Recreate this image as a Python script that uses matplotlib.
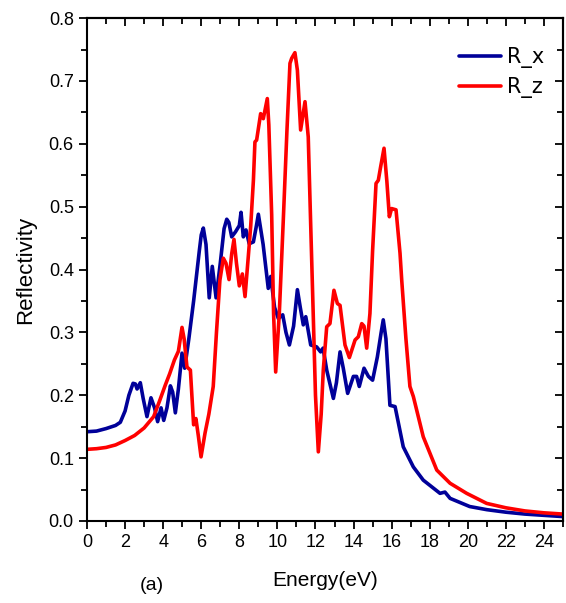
import numpy as np
import matplotlib
matplotlib.use("Agg")
import matplotlib.pyplot as plt
from matplotlib.ticker import MultipleLocator, FormatStrFormatter

# R_x (blue)
energy_x = [0.0, 0.5, 1.0, 1.5, 1.75, 2.0, 2.2, 2.42, 2.54, 2.63, 2.8, 2.95, 3.15, 3.36, 3.55, 3.71,
            3.89, 4.03, 4.2, 4.38, 4.5, 4.64, 4.8, 4.99, 5.13, 5.35, 5.6, 5.9, 6.0, 6.11, 6.25, 6.42,
            6.58, 6.78, 7.0, 7.2, 7.34, 7.45, 7.6, 7.8, 8.0, 8.09, 8.21, 8.35, 8.52, 8.74, 8.9, 9.0,
            9.25, 9.52, 9.65, 9.85, 10.05, 10.28, 10.45, 10.63, 10.85, 11.05, 11.2, 11.36, 11.49,
            11.75, 12.06, 12.27, 12.4, 12.59, 12.94, 13.1, 13.29, 13.46, 13.69, 13.99, 14.16, 14.3,
            14.55, 14.78, 15.0, 15.25, 15.45, 15.56, 15.7, 15.91, 16.18, 16.61, 17.14, 17.66, 18.54,
            18.8, 19.07, 20.1, 21.0, 22.0, 23.0, 24.0, 25.0]
refl_x = [0.142, 0.143, 0.147, 0.152, 0.157, 0.175, 0.2, 0.219, 0.218, 0.21, 0.22, 0.195, 0.166, 0.196,
          0.18, 0.158, 0.18, 0.16, 0.18, 0.215, 0.205, 0.172, 0.21, 0.267, 0.243, 0.29, 0.35, 0.43,
          0.455, 0.466, 0.44, 0.355, 0.405, 0.355, 0.41, 0.465, 0.48, 0.475, 0.452, 0.46, 0.47,
          0.491, 0.452, 0.463, 0.441, 0.444, 0.47, 0.488, 0.44, 0.37, 0.389, 0.34, 0.322, 0.328, 0.3,
          0.28, 0.31, 0.368, 0.34, 0.312, 0.325, 0.28, 0.277, 0.269, 0.275, 0.24, 0.195, 0.22, 0.269,
          0.243, 0.203, 0.23, 0.23, 0.214, 0.243, 0.23, 0.224, 0.261, 0.3, 0.32, 0.29, 0.184, 0.182,
          0.118, 0.086, 0.065, 0.044, 0.046, 0.036, 0.023, 0.018, 0.014, 0.011, 0.009, 0.007]

# R_z (red)
energy_z = [0.0, 0.5, 1.0, 1.5, 2.0, 2.5, 3.0, 3.5, 3.8, 4.11, 4.34, 4.59, 4.8, 4.99, 5.1, 5.25, 5.43,
            5.6, 5.72, 5.85, 5.99, 6.2, 6.4, 6.63, 6.8, 6.98, 7.16, 7.3, 7.46, 7.6, 7.72, 7.85, 8.0,
            8.16, 8.3, 8.47, 8.6, 8.74, 8.82, 8.91, 9.12, 9.26, 9.47, 9.55, 9.7, 9.8, 9.91, 10.1,
            10.31, 10.5, 10.66, 10.75, 10.92, 11.05, 11.22, 11.45, 11.62, 11.75, 11.89, 12.0, 12.15,
            12.3, 12.41, 12.59, 12.76, 12.97, 13.15, 13.29, 13.55, 13.78, 14.08, 14.25, 14.43, 14.55,
            14.69, 14.86, 15.0, 15.18, 15.3, 15.42, 15.6, 15.75, 15.88, 16.0, 16.23, 16.44, 16.53,
            16.75, 16.96, 17.14, 17.66, 18.37, 19.07, 19.94, 20.99, 22.0, 23.0, 24.0, 25.0]
refl_z = [0.114, 0.115, 0.117, 0.121, 0.128, 0.136, 0.148, 0.166, 0.19, 0.216, 0.234, 0.256, 0.27,
          0.308, 0.29, 0.245, 0.24, 0.153, 0.163, 0.135, 0.102, 0.14, 0.17, 0.214, 0.3, 0.383, 0.418,
          0.41, 0.384, 0.425, 0.448, 0.41, 0.374, 0.393, 0.357, 0.42, 0.47, 0.542, 0.603, 0.606, 0.648,
          0.64, 0.672, 0.63, 0.487, 0.33, 0.237, 0.33, 0.479, 0.62, 0.728, 0.736, 0.745, 0.717, 0.622,
          0.667, 0.611, 0.47, 0.32, 0.2, 0.11, 0.17, 0.24, 0.309, 0.314, 0.367, 0.346, 0.343, 0.28,
          0.26, 0.288, 0.293, 0.314, 0.31, 0.275, 0.33, 0.43, 0.537, 0.542, 0.563, 0.593, 0.54, 0.484,
          0.497, 0.495, 0.426, 0.383, 0.29, 0.214, 0.198, 0.134, 0.081, 0.06, 0.044, 0.028, 0.021,
          0.016, 0.013, 0.011]

plt.rcParams['font.family'] = ['Liberation Sans', 'DejaVu Sans']

fig = plt.figure(figsize=(5.66, 6.03), dpi=100)
ax = fig.add_axes([0.1537, 0.136, 0.841, 0.834])

ax.plot(energy_x, refl_x, color='#000099', lw=2.6, label='R_x',
        solid_joinstyle='round', solid_capstyle='round')
ax.plot(energy_z, refl_z, color='#ff0000', lw=2.6, label='R_z',
        solid_joinstyle='round', solid_capstyle='round')

ax.set_xlim(0, 25)
ax.set_ylim(0, 0.8)
ax.xaxis.set_major_locator(MultipleLocator(2))
ax.xaxis.set_minor_locator(MultipleLocator(1))
ax.yaxis.set_major_locator(MultipleLocator(0.1))
ax.yaxis.set_minor_locator(MultipleLocator(0.05))
ax.yaxis.set_major_formatter(FormatStrFormatter('%.1f'))

for s in ax.spines.values():
    s.set_linewidth(1.5)

ax.tick_params(which='major', direction='out', length=6, width=1.3, labelsize=13)
ax.tick_params(which='minor', direction='out', length=4, width=1.3)

# mirrored ticks pointing inward on top and right
top = ax.secondary_xaxis('top')
top.xaxis.set_major_locator(MultipleLocator(2))
top.xaxis.set_minor_locator(MultipleLocator(1))
top.tick_params(which='major', direction='in', length=6, width=1.3, labeltop=False)
top.tick_params(which='minor', direction='in', length=4, width=1.3)
top.spines['top'].set_linewidth(1.5)
right = ax.secondary_yaxis('right')
right.yaxis.set_major_locator(MultipleLocator(0.1))
right.yaxis.set_minor_locator(MultipleLocator(0.05))
right.tick_params(which='major', direction='in', length=6, width=1.3, labelright=False)
right.tick_params(which='minor', direction='in', length=4, width=1.3)
right.spines['right'].set_linewidth(1.5)

ax.set_ylabel('Reflectivity', fontsize=16, labelpad=9)
ax.set_xlabel('Energy(eV)', fontsize=15, labelpad=14)
fig.text(0.247, 0.022, '(a)', fontsize=14)

ax.legend(loc='upper right', bbox_to_anchor=(1.0, 0.98), frameon=False,
          handlelength=2.0, handletextpad=0.3, labelspacing=0.45,
          prop={'family': ['DejaVu Sans'], 'size': 15})

fig.savefig('out.png', dpi=100)
